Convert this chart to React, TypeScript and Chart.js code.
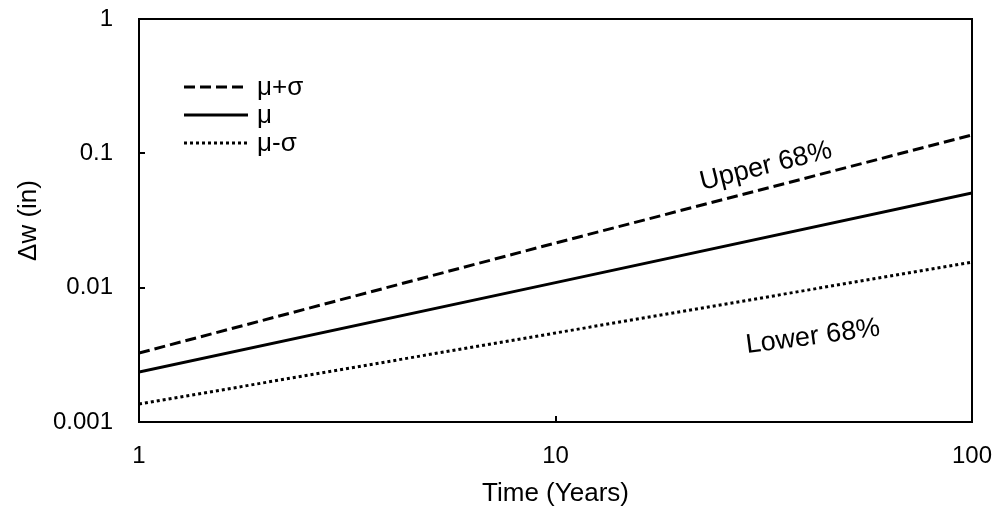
import React, { useEffect, useRef } from "react";
import { Chart, registerables } from "chart.js";

Chart.register(...registerables);

// Time axis (years) and deflection growth Δw (in) for each band
const years = [1, 10, 100];
const muPlusSigma = [0.00326, 0.0215, 0.137];
const mu = [0.00235, 0.0109, 0.0506];
const muMinusSigma = [0.00136, 0.0046, 0.0155];

const xTicks = [1, 10, 100];
const xTickLabels = ["1", "10", "100"];
const yTicks = [0.001, 0.01, 0.1, 1];
const yTickLabels = ["0.001", "0.01", "0.1", "1"];

const seriesNames = ["μ+σ", "μ", "μ-σ"];

const FONT = "'Liberation Sans', Arial, sans-serif";
const DASHED = [11, 5];
const DOTTED = [3, 3];

const frameAndNotes = {
  id: "frameAndNotes",
  afterDatasetsDraw(chart: any) {
    const { ctx, chartArea: a, scales } = chart;
    const xs = scales.x;
    const ys = scales.y;
    ctx.save();
    ctx.strokeStyle = "#000";
    ctx.lineWidth = 2;
    ctx.setLineDash([]);
    ctx.strokeRect(a.left, a.top, a.right - a.left, a.bottom - a.top);

    // inward tick marks
    const tl = 6;
    ctx.beginPath();
    for (const v of yTicks) {
      const py = Math.round(ys.getPixelForValue(v));
      ctx.moveTo(a.left, py);
      ctx.lineTo(a.left + tl, py);
    }
    for (const v of xTicks) {
      const px = Math.round(xs.getPixelForValue(v));
      ctx.moveTo(px, a.bottom);
      ctx.lineTo(px, a.bottom - tl);
    }
    ctx.stroke();

    // legend
    const dashes = [DASHED, [], DOTTED];
    const lx0 = 184;
    const lx1 = 248;
    const rowY = [87, 115, 143];
    ctx.lineWidth = 3;
    ctx.fillStyle = "#000";
    ctx.font = `26px ${FONT}`;
    ctx.textBaseline = "middle";
    ctx.textAlign = "left";
    seriesNames.forEach((name, i) => {
      ctx.beginPath();
      ctx.setLineDash(dashes[i]);
      ctx.moveTo(lx0, rowY[i]);
      ctx.lineTo(lx1, rowY[i]);
      ctx.stroke();
      ctx.fillText(name, 257, rowY[i] + 1);
    });
    ctx.setLineDash([]);

    // band annotations
    const notes = [
      { text: "Upper 68%", x: 32, y: 0.08, angle: -14 },
      { text: "Lower 68%", x: 41.5, y: 0.0043, angle: -7.5 },
    ];
    ctx.font = `27px ${FONT}`;
    ctx.textAlign = "center";
    for (const n of notes) {
      ctx.save();
      ctx.translate(xs.getPixelForValue(n.x), ys.getPixelForValue(n.y));
      ctx.rotate((n.angle * Math.PI) / 180);
      ctx.fillText(n.text, 0, 0);
      ctx.restore();
    }
    ctx.restore();
  },
};

export default function App() {
  const canvasRef = useRef<HTMLCanvasElement | null>(null);

  useEffect(() => {
    if (!canvasRef.current) return;
    const mk = (vals: number[]) => years.map((x, i) => ({ x, y: vals[i] }));
    const base = {
      borderColor: "#000",
      borderWidth: 3,
      pointRadius: 0,
      fill: false,
      tension: 0,
    };
    const chart = new Chart(canvasRef.current, {
      type: "line",
      data: {
        datasets: [
          { ...base, label: seriesNames[0], data: mk(muPlusSigma), borderDash: DASHED },
          { ...base, label: seriesNames[1], data: mk(mu) },
          { ...base, label: seriesNames[2], data: mk(muMinusSigma), borderDash: DOTTED },
        ],
      },
      options: {
        animation: false,
        responsive: false,
        maintainAspectRatio: false,
        layout: { padding: { top: 19, right: 25, left: 0, bottom: 0 } },
        plugins: { legend: { display: false }, tooltip: { enabled: false } },
        scales: {
          x: {
            type: "logarithmic",
            min: 1,
            max: 100,
            grid: { display: false, drawTicks: false },
            border: { display: false },
            afterBuildTicks: (s: any) => {
              s.ticks = xTicks.map((v) => ({ value: v }));
            },
            afterFit: (s: any) => {
              s.height = 87;
              s.paddingLeft = 0;
              s.paddingRight = 0;
            },
            ticks: {
              autoSkip: false,
              maxRotation: 0,
              padding: 20,
              color: "#000",
              font: { family: FONT, size: 24 },
              callback: (_v: any, i: number) => xTickLabels[i],
            },
            title: {
              display: true,
              text: "Time (Years)",
              color: "#000",
              font: { family: FONT, size: 26 },
              padding: { top: 0, bottom: 0 },
            },
          },
          y: {
            type: "logarithmic",
            min: 0.001,
            max: 1,
            grid: { display: false, drawTicks: false },
            border: { display: false },
            afterBuildTicks: (s: any) => {
              s.ticks = yTicks.map((v) => ({ value: v }));
            },
            afterFit: (s: any) => {
              s.width = 139;
              s.paddingTop = 0;
              s.paddingBottom = 0;
            },
            ticks: {
              autoSkip: false,
              padding: 26,
              color: "#000",
              font: { family: FONT, size: 24 },
              callback: (_v: any, i: number) => yTickLabels[i],
            },
            title: {
              display: true,
              text: "Δw (in)",
              color: "#000",
              font: { family: FONT, size: 26 },
              padding: { top: 13, bottom: 0 },
            },
          },
        },
      },
      plugins: [frameAndNotes],
    });
    return () => chart.destroy();
  }, []);

  return (
    <div style={{ position: "fixed", left: 0, top: 0, width: 997, height: 509, background: "#fff" }}>
      <canvas ref={canvasRef} width={997} height={509} />
    </div>
  );
}
